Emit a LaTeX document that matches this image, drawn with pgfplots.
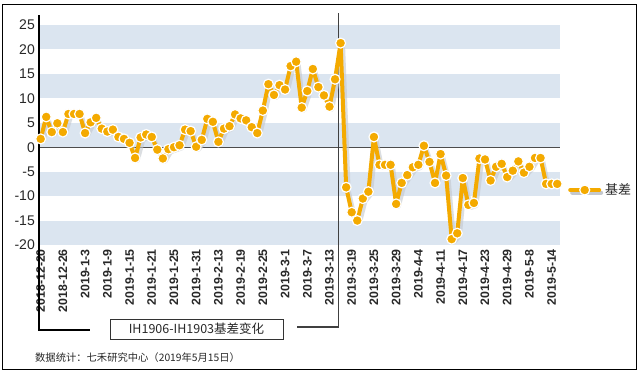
\documentclass[border=0pt]{standalone}
\usepackage{fontspec}
\setmainfont{Liberation Sans}
\newfontfamily\cjk{Noto Sans CJK SC}
\usepackage{pgfplots}
\usepackage{pgfplotstable}
\pgfplotsset{compat=1.18}
\definecolor{orn}{RGB}{244,170,0}
\definecolor{band}{RGB}{219,229,240}
\definecolor{shadowc}{RGB}{196,200,206}
\definecolor{txt}{RGB}{40,40,40}
\pgfplotstableread{
i v
0 1.7
1 6.2
2 3.1
3 4.9
4 3.1
5 6.8
6 6.8
7 6.8
8 2.9
9 5.1
10 6.0
11 3.8
12 3.2
13 3.6
14 2.1
15 1.7
16 0.9
17 -2.2
18 2.0
19 2.6
20 2.1
21 -0.5
22 -2.3
23 -0.4
24 0.0
25 0.4
26 3.6
27 3.3
28 0.1
29 1.5
30 5.8
31 5.2
32 1.1
33 3.8
34 4.3
35 6.7
36 5.9
37 5.5
38 4.1
39 2.9
40 7.5
41 12.9
42 10.7
43 12.7
44 11.8
45 16.6
46 17.5
47 8.1
48 11.5
49 16.0
50 12.3
51 10.6
52 8.3
53 13.9
54 21.3
55 -8.2
56 -13.3
57 -15.0
58 -10.5
59 -9.1
60 2.1
61 -3.6
62 -3.6
63 -3.6
64 -11.6
65 -7.3
66 -5.7
67 -4.1
68 -3.6
69 0.3
70 -3.0
71 -7.3
72 -1.4
73 -5.8
74 -18.8
75 -17.6
76 -6.3
77 -11.8
78 -11.4
79 -2.3
80 -2.5
81 -6.8
82 -4.0
83 -3.4
84 -6.1
85 -4.8
86 -2.9
87 -5.2
88 -4.0
89 -2.2
90 -2.2
91 -7.5
92 -7.5
93 -7.5
}\basis
\begin{document}
\begin{tikzpicture}
\useasboundingbox (-39pt,245pt) rectangle (602pt,-128pt);
\fill[white] (-39pt,245pt) rectangle (602pt,-128pt);
\begin{axis}[
  at={(0pt,0pt)}, anchor=south west,
  scale only axis, width=521pt, height=229.8pt,
  xmin=-0.3, xmax=93.5, ymin=-20, ymax=27,
  axis line style={draw=none},
  tick style={draw=none},
  clip=false,
  ytick={-20,-15,...,25},
  xtick={0,4,...,92},
  xticklabels={2018-12-20,2018-12-26,2019-1-3,2019-1-9,2019-1-15,2019-1-21,2019-1-25,2019-1-31,2019-2-13,2019-2-19,2019-2-25,2019-3-1,2019-3-7,2019-3-13,2019-3-19,2019-3-25,2019-3-29,2019-4-4,2019-4-11,2019-4-17,2019-4-23,2019-4-29,2019-5-8,2019-5-14},
  xticklabel style={rotate=90, anchor=east, inner sep=0pt, font=\fontsize{12.3}{12.5}\selectfont\bfseries, text=txt},
  xticklabel shift=4pt,
  yticklabel style={anchor=east, inner sep=0pt, font=\fontsize{14}{14}\selectfont, text=txt},
  yticklabel shift=4pt,
  /pgf/number format/assume math mode=true,
  legend style={at={(1.0154,0.2393)}, anchor=west, draw=none, fill=none, inner sep=0pt,
    font=\cjk\fontsize{13}{13}\selectfont, text=txt},
  legend image code/.code={
    \draw[shadowc, line width=4pt, line cap=round] (2pt,-2.5pt) -- (31pt,-2.5pt);
    \draw[orn, line width=4pt, line cap=round] (0pt,0pt) -- (29pt,0pt);
    \draw[fill=orn, draw=white, line width=1.2pt] (14.5pt,0pt) circle (5pt);
  },
]
% background bands
\fill[band] (axis cs:-0.3,20) rectangle (axis cs:93.5,25);
\fill[band] (axis cs:-0.3,10) rectangle (axis cs:93.5,15);
\fill[band] (axis cs:-0.3,0) rectangle (axis cs:93.5,5);
\fill[band] (axis cs:-0.3,-10) rectangle (axis cs:93.5,-5);
\fill[band] (axis cs:-0.3,-20) rectangle (axis cs:93.5,-15);
\draw[black!70, line width=1pt] (axis cs:-0.3,0) -- (axis cs:93.5,0);
% left axis + bracket
\draw[black, line width=1.8pt] (axis cs:-0.3,27.04) -- (axis cs:-0.3,-37.39) -- (axis cs:8.82,-37.39);
\draw[black!75, line width=1.4pt] (axis cs:53.65,27.45) -- (axis cs:53.65,-36.77) -- (axis cs:46.09,-36.77);
% shadow
\addplot[shadowc, line width=4pt, line join=round, opacity=0.6, xshift=2.5pt, yshift=-3pt, forget plot] table[x=i,y=v] {\basis};
\addplot[orn, line width=4pt, line join=round, mark=*, mark size=5pt,
  mark options={fill=orn, draw=white, line width=1.2pt}] table[x=i,y=v] {\basis};
\addlegendentry{基差}
\end{axis}
\draw[black!80, line width=0.9pt] (71pt,-74pt) rectangle (244pt,-94pt);
\node[font=\cjk\fontsize{12.5}{13}\selectfont, text=txt] at (157.5pt,-84pt) {IH1906-IH1903基差变化};
\node[anchor=west, inner sep=0pt, font=\cjk\fontsize{10.3}{11}\selectfont, text=txt] at (-4pt,-113pt) {数据统计：七禾研究中心（2019年5月15日）};
\draw[black, line width=1pt] (-36.5pt,241pt) rectangle (597.5pt,-124pt);
\end{tikzpicture}
\end{document}
